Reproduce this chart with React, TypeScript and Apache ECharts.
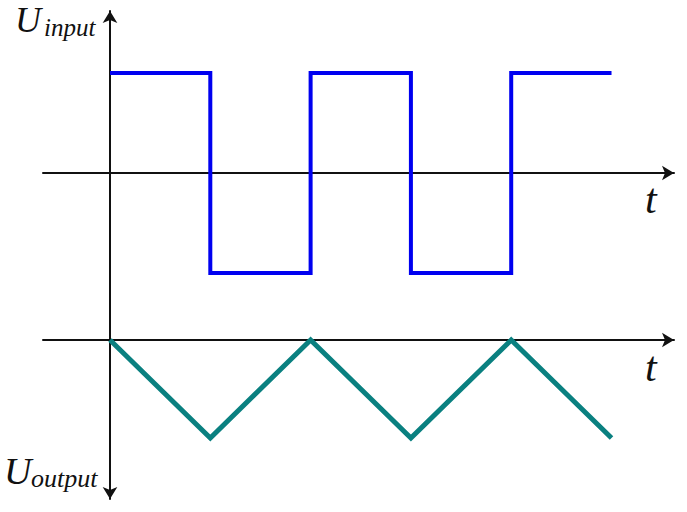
import React, { useEffect, useRef } from "react";
import * as echarts from "echarts";

// time points (one unit = one half-period)
const squareTimes = [0, 1, 1, 2, 2, 3, 3, 4, 4, 5];
const squareValues = [1, 1, -1, -1, 1, 1, -1, -1, 1, 1];
const triangleTimes = [0, 1, 2, 3, 4, 5];
const triangleValues = [0, -1, 0, -1, 0, -1];

const inputLabel = "input";
const outputLabel = "output";
const symbolU = "U";
const timeLabel = "t";

const serif = '"Liberation Serif", "Times New Roman", serif';

export default function App() {
  const ref = useRef<HTMLDivElement>(null);
  useEffect(() => {
    if (!ref.current) return;
    const chart = echarts.init(ref.current, undefined, { renderer: "svg" });
    const axisLine = (symbol: string[]) => ({
      show: true,
      onZero: true,
      symbol,
      symbolSize: [11, 12],
      lineStyle: { color: "#111111", width: 2 },
    });
    const hidden = {
      axisTick: { show: false },
      axisLabel: { show: false },
      splitLine: { show: false },
    };
    chart.setOption({
      animation: false,
      backgroundColor: "#ffffff",
      grid: [
        { left: 43, right: 13, top: 11, height: 289 },
        { left: 43, right: 13, top: 300, bottom: 13 },
      ],
      xAxis: [
        { type: "value", gridIndex: 0, min: -0.668, max: 5.623, axisLine: axisLine(["none", "arrow"]), ...hidden },
        { type: "value", gridIndex: 1, min: -0.668, max: 5.623, axisLine: axisLine(["none", "arrow"]), ...hidden },
      ],
      yAxis: [
        { type: "value", gridIndex: 0, min: -1.27, max: 1.62, axisLine: axisLine(["none", "arrow"]), ...hidden },
        { type: "value", gridIndex: 1, min: -1.622, max: 0.408, axisLine: axisLine(["arrow", "none"]), ...hidden },
      ],
      series: [
        {
          type: "line",
          xAxisIndex: 0,
          yAxisIndex: 0,
          data: squareTimes.map((t, i) => [t, squareValues[i]]),
          showSymbol: false,
          lineStyle: { color: "#0000f0", width: 4, join: "miter" },
        },
        {
          type: "line",
          xAxisIndex: 1,
          yAxisIndex: 1,
          data: triangleTimes.map((t, i) => [t, triangleValues[i]]),
          showSymbol: false,
          lineStyle: { color: "#0a8080", width: 5, join: "miter" },
        },
      ],
      graphic: [
        { type: "text", x: 15, y: 2, style: { text: symbolU, font: `italic 36px ${serif}`, lineHeight: 36, fill: "#111", verticalAlign: "top" } },
        { type: "text", x: 44, y: 15, style: { text: inputLabel, font: `italic 25px ${serif}`, fill: "#111", verticalAlign: "top" } },
        { type: "text", x: 4, y: 452, style: { text: symbolU, font: `italic 38px ${serif}`, fill: "#111", verticalAlign: "top" } },
        { type: "text", x: 31, y: 465, style: { text: outputLabel, font: `italic 26px ${serif}`, fill: "#111", verticalAlign: "top" } },
        { type: "text", x: 645, y: 178, style: { text: timeLabel, font: `italic 42px ${serif}`, fill: "#111", verticalAlign: "top" } },
        { type: "text", x: 645, y: 346, style: { text: timeLabel, font: `italic 42px ${serif}`, fill: "#111", verticalAlign: "top" } },
      ],
    });
    return () => chart.dispose();
  }, []);
  return (
    <div
      ref={ref}
      style={{ position: "fixed", left: 0, top: 0, width: 687, height: 512 }}
    />
  );
}
